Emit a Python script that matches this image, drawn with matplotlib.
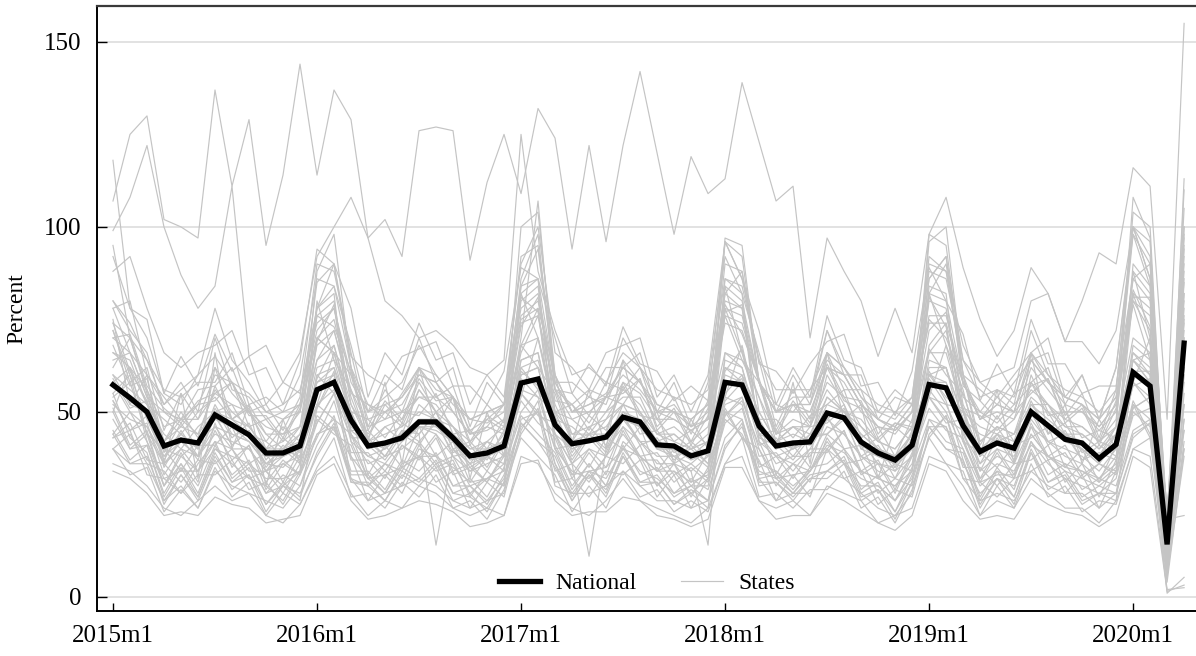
import numpy as np
import matplotlib
matplotlib.use("Agg")
import matplotlib.pyplot as plt

plt.rcParams['font.family'] = ['Liberation Serif', 'DejaVu Serif']

# ---------------- data (2015m1 .. 2020m4, 64 months) ----------------
xtick_labels = ["2015m1", "2016m1", "2017m1", "2018m1", "2019m1", "2020m1"]
ytick_values = [0, 50, 100, 150]

national = [57.3, 53.8, 50.0, 40.8, 42.4, 41.6, 49.2, 46.5, 43.8, 38.9, 38.9, 40.8,
            56.0, 58.0, 47.8, 40.8, 41.6, 43.0, 47.3, 47.3, 43.0, 38.1, 38.9, 40.8,
            57.8, 58.9, 46.5, 41.4, 42.2, 43.2, 48.6, 47.3, 41.1, 40.8, 38.1, 39.5,
            58.0, 57.3, 46.2, 40.8, 41.6, 41.9, 49.7, 48.4, 41.9, 38.9, 37.0, 41.0,
            57.4, 56.5, 46.3, 39.3, 41.6, 40.2, 50.0, 46.3, 42.6, 41.6, 37.4, 41.2,
            60.7, 57.0, 14.2, 68.6]

st00 = [107,125,130,102,100,97,137,111,129,95,114,144,
        114,137,129,97,102,92,126,127,126,91,112,125,
        109,132,124,94,122,96,122,142,120,98,119,109,
        113,139,123,107,111,70,97,88,80,65,78,66,
        98,108,89,75,65,72,89,82,69,80,93,90,
        116,111,48,155]
st01 = [80,72,66,50,48,52,62,55,50,46,44,50,
        85,90,62,48,50,52,60,58,50,44,46,52,
        92,95,60,50,52,55,62,58,50,48,45,48,
        90,88,58,50,52,50,62,60,52,46,44,50,
        92,88,60,48,52,50,64,58,52,50,46,52,
        98,90,12,95]
st02 = [44,36,38,26,33,27,38,31,33,25,30,28,
        38,46,31,30,26,34,31,36,28,27,24,31,
        47,42,35,26,33,29,38,31,31,25,29,26,
        40,47,30,31,27,32,34,37,27,29,23,31,
        46,40,37,25,32,27,39,31,33,26,28,28,
        44,47,8,48]
st03 = [55,60,48,38,44,40,52,44,42,36,40,38,
        60,55,46,42,38,45,44,50,40,36,42,38,
        62,56,48,38,44,40,50,46,42,38,40,36,
        55,60,44,42,40,44,48,52,40,38,36,42,
        60,54,50,38,44,40,52,46,44,40,36,44,
        64,58,15,70]
st04 = [64,66,54,50,46,52,53,58,46,48,42,51,
        70,66,60,43,52,47,58,50,54,41,48,45,
        66,76,50,52,45,54,52,59,45,50,41,49,
        76,64,58,44,52,46,62,53,51,42,47,45,
        66,72,51,49,45,50,55,59,47,51,41,51,
        79,64,18,80]
st05 = [51,41,45,30,39,31,47,35,41,29,36,33,
        43,53,37,37,32,41,37,43,33,35,31,38,
        53,47,43,32,39,33,45,37,37,31,35,31,
        47,51,35,38,32,39,39,45,33,36,28,38,
        51,45,43,31,39,32,46,37,39,32,36,33,
        49,51,12,58]
st06 = [95,70,55,40,38,42,46,44,42,36,35,40,
        88,98,62,42,40,44,46,45,42,36,38,44,
        100,104,60,42,44,44,48,46,40,40,38,42,
        96,92,58,42,44,42,50,48,42,38,36,44,
        98,95,60,40,44,42,50,46,42,42,38,46,
        108,97,6,100]
st07 = [48,40,41,28,36,30,41,33,37,28,33,30,
        41,49,34,34,29,37,34,39,30,32,27,35,
        49,44,39,29,36,30,41,33,35,28,32,29,
        43,48,33,34,29,35,36,40,29,33,26,35,
        48,42,40,27,35,29,42,33,36,29,32,30,
        45,48,10,52]
st08 = [72,58,62,45,55,48,60,58,50,42,48,50,
        70,75,55,52,48,55,62,56,54,45,48,52,
        75,78,60,50,54,52,64,58,50,52,46,50,
        74,72,58,52,50,56,62,60,52,48,45,50,
        75,70,58,48,54,50,66,58,54,52,46,52,
        80,72,20,88]
st09 = [40,33,35,23,29,24,35,27,31,22,28,25,
        35,43,27,28,24,31,27,33,24,26,21,29,
        43,38,33,23,30,24,34,27,29,23,26,23,
        36,43,27,28,24,29,29,34,24,27,20,29,
        43,36,34,22,30,24,36,27,30,23,26,25,
        40,43,4,40]
st10 = [58,62,44,40,34,41,41,46,36,39,31,40,
        70,66,49,33,41,35,46,38,42,31,38,34,
        68,78,40,41,35,43,40,46,34,40,31,39,
        78,66,48,33,41,35,49,40,41,32,36,34,
        68,74,42,39,35,41,43,46,35,40,31,41,
        82,68,10,75]
st11 = [60,56,52,44,40,46,50,52,44,42,38,44,
        58,62,50,40,46,42,52,48,46,38,42,40,
        62,64,48,46,42,48,52,50,42,44,40,42,
        62,60,50,42,46,42,54,50,46,40,38,44,
        60,62,48,44,42,44,52,52,44,44,40,44,
        66,60,16,72]
st12 = [92,78,75,55,65,57,71,61,65,52,58,55,
        78,90,65,60,57,65,67,69,57,57,52,61,
        89,86,70,55,63,57,73,63,61,53,57,53,
        82,88,63,61,55,63,69,71,57,58,49,61,
        89,80,71,53,63,55,75,63,63,55,57,57,
        86,90,22,98]
st13 = [50,40,44,30,36,28,40,36,32,30,26,34,
        52,56,38,32,28,36,38,34,36,28,32,30,
        56,54,40,30,36,30,42,38,30,34,28,32,
        54,52,36,34,30,34,42,36,32,30,26,34,
        56,50,40,30,34,32,44,38,34,32,30,34,
        58,52,9,62]
st14 = [68,57,59,42,50,43,57,48,51,40,46,42,
        59,68,50,48,43,50,49,55,44,45,40,48,
        68,62,55,42,49,45,57,49,48,42,45,41,
        61,67,48,48,43,49,52,56,43,46,38,48,
        67,60,55,41,49,42,58,49,50,43,45,43,
        64,66,15,76]
st15 = [74,61,53,35,43,37,49,41,45,34,40,36,
        69,79,45,41,37,44,41,48,38,39,34,42,
        81,77,49,36,43,38,49,42,42,36,39,35,
        77,79,43,41,37,43,44,49,37,40,32,42,
        81,73,50,34,43,36,51,42,44,37,39,37,
        81,81,14,85]
st16 = [75,52,60,36,55,32,66,40,52,30,48,36,
        80,64,56,42,58,36,62,46,54,32,50,38,
        82,70,52,42,56,40,64,46,50,36,48,40,
        84,66,54,40,58,36,66,48,52,32,46,42,
        82,68,56,38,56,36,66,44,52,36,48,40,
        88,70,24,60]
st17 = [36,34,30,24,22,26,30,26,28,22,20,25,
        34,38,28,22,26,24,30,28,24,22,24,22,
        38,36,28,24,22,26,32,26,24,22,20,24,
        36,38,26,24,26,22,30,28,26,20,22,24,
        38,36,30,22,26,24,32,28,24,24,20,26,
        40,38,2,2.5]
st18 = [78,80,60,54,48,56,57,62,50,52,45,54,
        90,88,66,46,56,50,62,54,57,44,52,47,
        86,98,56,55,49,58,56,62,48,54,44,53,
        96,86,64,46,56,48,66,56,56,44,50,47,
        86,92,57,53,48,55,58,62,49,55,43,56,
        100,86,12,92]
st19 = [53,45,49,37,45,38,49,41,45,35,41,37,
        47,55,43,43,38,45,42,47,39,41,35,43,
        55,49,47,37,44,39,49,41,43,37,41,36,
        49,53,41,43,38,44,44,48,38,41,34,43,
        54,47,48,36,44,37,50,41,45,37,41,38,
        51,54,20,45]
st20 = [58,50,46,38,42,38,62,48,44,36,38,42,
        56,60,44,38,40,44,56,50,42,35,38,40,
        60,62,44,40,42,44,58,50,40,38,36,40,
        60,58,44,38,40,42,60,52,42,36,35,40,
        58,58,45,38,42,40,60,50,42,40,36,42,
        64,58,13,66]
st21 = [88,92,78,66,62,66,68,72,60,62,52,64,
        94,90,78,54,66,60,74,64,66,52,60,54,
        90,100,66,62,56,66,68,70,54,60,50,60,
        96,86,72,52,62,54,76,64,62,50,56,52,
        86,92,64,58,54,60,66,70,54,60,48,62,
        100,86,18,105]
st22 = [55,43,39,25,33,26,37,29,33,23,30,26,
        51,61,31,31,26,33,30,35,26,28,23,31,
        61,57,36,26,33,27,38,30,31,25,28,24,
        57,59,31,31,26,32,32,36,26,29,21,31,
        61,53,37,24,32,25,39,29,32,25,28,26,
        61,61,5,55]
st23 = [66,64,52,48,44,50,54,48,52,44,40,46,
        64,68,52,44,50,46,56,50,46,42,46,44,
        68,70,50,48,44,50,54,54,44,46,42,46,
        66,64,54,44,48,46,56,50,48,42,40,46,
        66,66,50,46,44,48,56,52,46,46,42,46,
        70,66,17,82]
st24 = [43,47,37,36,31,37,36,40,32,34,28,36,
        48,44,41,30,36,32,41,35,37,27,34,30,
        44,51,34,36,31,38,36,41,30,36,27,35,
        50,43,40,30,36,31,43,36,37,28,32,30,
        43,49,35,35,30,36,37,41,31,36,27,37,
        52,43,7,45]
st25 = [70,66,60,52,58,50,70,56,54,48,50,52,
        72,78,58,50,54,58,68,60,54,48,50,52,
        76,80,56,52,56,54,70,62,52,50,48,52,
        76,74,58,50,54,54,72,62,54,48,46,52,
        74,74,58,50,56,52,72,60,54,52,48,54,
        80,76,22,90]
st26 = [34,32,28,22,23,22,27,25,24,20,21,22,
        33,36,26,21,22,24,26,25,23,19,20,22,
        36,37,26,22,23,23,27,26,22,21,19,21,
        35,35,26,21,22,22,28,26,23,20,18,22,
        36,34,26,21,22,21,28,25,23,22,19,22,
        38,35,1.5,3.2]
st27 = [59,51,53,39,47,40,51,43,47,37,43,39,
        51,59,45,45,40,47,44,50,40,42,37,45,
        59,54,50,39,46,41,52,44,45,39,42,38,
        53,58,44,45,40,46,47,51,40,43,35,45,
        59,52,51,38,46,39,53,44,47,39,42,40,
        57,59,11,60]
st28 = [44,50,42,30,38,34,42,40,34,34,30,38,
        52,48,44,32,36,34,42,36,38,30,32,36,
        50,56,40,34,32,38,44,38,34,36,30,34,
        52,54,40,32,36,34,44,40,34,32,30,36,
        54,52,42,32,36,34,44,38,36,34,32,36,
        58,54,8,48]
st29 = [118,78,70,55,52,60,65,58,55,50,48,52,
        78,84,62,52,50,54,60,58,52,48,47,50,
        82,86,58,50,50,54,60,56,50,50,46,48,
        84,80,58,50,50,50,62,58,50,46,45,50,
        82,80,58,48,50,48,62,56,50,50,45,50,
        88,82,16,86]
st30 = [99,108,122,100,87,78,84,111,65,68,58,66,
        92,100,108,97,80,76,70,72,68,62,60,64,
        125,88,72,60,62,58,66,62,56,54,52,56,
        86,84,64,56,56,56,66,62,56,52,50,54,
        88,86,64,54,56,54,66,60,56,54,50,56,
        100,92,20,110]
st31 = [62,70,56,42,46,44,50,48,46,40,40,44,
        64,72,54,42,44,46,50,48,44,40,40,42,
        70,107,56,44,44,46,52,50,44,42,40,42,
        97,95,58,44,46,44,54,50,44,40,38,44,
        96,100,60,42,46,44,54,50,46,44,40,46,
        104,100,14,113]
st32 = [40,44,36,34,28,36,42,32,36,28,30,34,
        44,46,32,30,34,30,40,38,30,30,26,32,
        46,50,36,28,34,32,40,34,32,28,30,30,
        48,44,34,32,28,34,40,36,30,30,26,32,
        46,46,36,28,32,30,42,36,32,30,28,32,
        50,46,6,38]
st33 = [52,48,46,36,40,38,44,42,40,34,36,38,
        60,62,44,36,38,40,44,14,40,34,36,38,
        64,66,44,36,11,40,46,42,36,36,34,14,
        66,62,44,36,38,38,46,44,38,34,32,38,
        64,62,44,34,38,36,46,42,38,36,32,38,
        68,64,10,40]
st34 = [70,71,57,51,47,53,55,58,49,49,43,52,
        76,73,61,45,53,48,59,53,54,42,49,46,
        73,81,53,52,47,54,55,59,46,51,42,51,
        79,71,59,45,53,47,63,54,53,43,47,46,
        72,77,54,50,47,52,57,59,48,52,42,53,
        83,73,14,78]
st35 = [72,60,42,32,34,34,40,38,36,32,32,34,
        78,82,42,32,33,35,38,38,35,31,32,34,
        84,86,41,33,34,35,40,38,34,34,31,33,
        86,82,42,32,33,34,41,39,34,32,30,34,
        84,82,42,31,33,33,41,38,35,34,31,35,
        90,84,9,70]
st36 = [45,37,41,27,35,27,39,31,35,25,31,27,
        39,47,33,33,28,35,32,37,28,30,25,33,
        47,42,38,27,34,28,39,31,33,27,30,26,
        41,46,32,33,28,33,34,38,28,31,23,33,
        46,40,39,26,34,27,40,31,34,27,30,28,
        43,47,1,5.3]
st37 = [66,62,56,46,48,48,55,52,50,44,44,46,
        68,72,56,46,48,50,54,54,50,44,45,48,
        74,76,56,48,50,50,58,55,48,48,45,48,
        80,78,58,50,52,52,66,62,54,50,48,54,
        90,88,68,58,60,62,80,82,69,69,63,72,
        100,96,18,100]
st38 = [43,45,33,32,28,33,33,37,29,31,25,33,
        49,45,38,26,33,28,38,31,34,24,31,27,
        45,53,31,32,27,34,33,37,27,33,24,32,
        51,43,37,26,33,27,40,32,34,25,29,27,
        44,49,32,31,27,32,34,37,28,33,24,34,
        53,44,21,22]
st39 = [60,52,50,40,44,40,50,46,44,38,40,42,
        62,64,48,40,42,44,48,48,44,38,40,42,
        64,66,46,40,42,44,50,48,42,40,38,40,
        64,62,46,40,42,42,52,50,44,40,38,42,
        62,62,48,40,42,40,52,48,44,42,38,44,
        66,62,25,62]
st40 = [78,66,54,42,48,44,56,50,46,40,42,46,
        76,80,52,42,46,48,54,52,46,40,42,46,
        80,84,50,44,46,48,56,52,44,44,40,44,
        82,78,50,42,46,46,58,54,46,42,40,46,
        80,78,52,42,46,44,58,52,48,46,42,48,
        86,80,14,82]
st41 = [54,58,44,36,42,38,46,40,40,34,38,40,
        58,60,42,38,36,42,46,44,38,34,38,36,
        60,62,44,36,40,38,48,42,38,38,34,38,
        62,58,42,38,36,40,48,44,38,36,34,38,
        60,58,44,36,40,38,48,42,40,38,34,40,
        64,60,12,68]
st42 = [74,70,64,52,56,60,78,64,58,50,52,56,
        74,78,60,50,52,54,62,60,54,48,50,52,
        78,82,58,50,52,54,62,58,52,50,48,52,
        78,76,58,50,52,52,64,60,52,48,46,52,
        76,76,58,48,52,50,64,58,54,52,48,54,
        82,78,16,94]
st43 = [40,36,36,26,30,24,34,30,28,26,24,30,
        44,48,32,26,28,30,32,30,26,24,26,28,
        48,50,30,28,28,30,34,30,26,26,24,26,
        50,48,32,26,28,28,34,32,28,24,22,28,
        48,46,32,26,28,26,34,30,28,28,24,28,
        52,48,7,42]
st44 = [50,62,52,40,42,42,48,46,42,38,38,40,
        52,66,50,40,42,42,46,46,42,37,38,40,
        54,70,48,41,42,43,48,46,40,40,37,39,
        54,68,48,40,42,41,50,48,41,38,36,40,
        54,68,50,39,42,40,50,46,42,41,37,42,
        58,70,12,74]
st45 = [80,74,64,56,54,58,58,66,52,54,50,60,
        86,84,68,50,60,56,70,58,62,46,58,52,
        84,94,58,58,54,62,62,66,50,58,46,58,
        92,82,66,50,60,52,72,60,60,48,54,52,
        82,90,60,56,52,58,64,66,52,60,48,62,
        98,84,20,97]
st46 = [53,45,47,33,40,34,45,37,41,31,37,33,
        47,55,39,39,34,41,38,44,34,36,31,39,
        55,50,44,33,40,35,46,38,39,33,36,32,
        49,54,38,39,34,40,40,45,34,37,29,39,
        54,48,45,32,40,33,47,38,41,33,36,34,
        51,54,8,52]

states = [st00, st01, st02, st03, st04, st05, st06, st07, st08, st09, st10, st11,
          st12, st13, st14, st15, st16, st17, st18, st19, st20, st21, st22, st23,
          st24, st25, st26, st27, st28, st29, st30, st31, st32, st33, st34, st35,
          st36, st37, st38, st39, st40, st41, st42, st43, st44, st45, st46]

n_months = len(national)
for s in states:
    assert len(s) == n_months, len(s)

# ---------------- plot ----------------
W, H = 1196, 656
fig = plt.figure(figsize=(W / 100, H / 100), dpi=100)
ax = fig.add_axes([97 / W, 45 / H, (W - 97) / W, 605 / H])

x = np.arange(n_months)
state_color = '#c4c4c4'
for i, s in enumerate(states):
    ax.plot(x, s, color=state_color, lw=0.85, zorder=2,
            label='States' if i == 0 else None)
ax.plot(x, national, color='black', lw=3.8, zorder=3, label='National',
        solid_joinstyle='miter')

ax.set_xlim(-0.94, 63.7)
ax.set_ylim(-3.8, 159.7)

ax.set_xticks(np.arange(0, n_months, 12))
ax.set_xticklabels(xtick_labels)
ax.set_yticks(ytick_values)
ax.set_yticklabels([str(v) for v in ytick_values])

ax.yaxis.grid(True, color='#e2e2e2', lw=1.4, zorder=0)
ax.xaxis.grid(False)
ax.set_axisbelow(True)

for side in ['left', 'bottom']:
    ax.spines[side].set_color('black')
    ax.spines[side].set_linewidth(1.4)
ax.spines['top'].set_color('#3a3a3a')
ax.spines['top'].set_linewidth(1.6)
ax.spines['right'].set_visible(False)

ax.tick_params(axis='y', direction='in', length=7.5, width=1.0, pad=11,
               labelsize=18, colors='black')
ax.tick_params(axis='x', direction='in', length=6, width=1.0, pad=10,
               labelsize=18, colors='black')
ax.set_ylabel('Percent', fontsize=17, labelpad=12)

handles, labels = ax.get_legend_handles_labels()
order = [labels.index('National'), labels.index('States')]
leg = ax.legend([handles[i] for i in order], [labels[i] for i in order],
                loc='center', bbox_to_anchor=(0.5, 0.046), ncol=2,
                frameon=False, fontsize=17, handlelength=1.75,
                handletextpad=0.65, columnspacing=1.9, borderpad=0.2)

fig.savefig('out.png', dpi=100)
